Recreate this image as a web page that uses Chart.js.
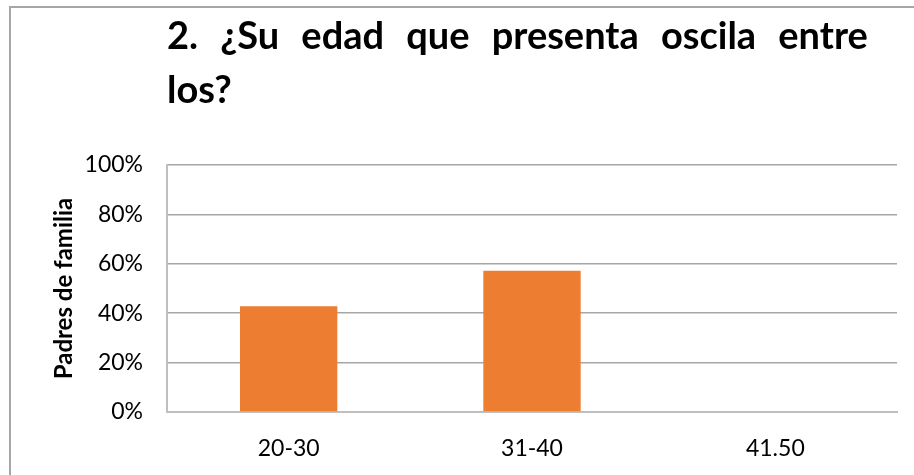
<!DOCTYPE html>
<html>
<head>
<meta charset="utf-8">
<script src="https://cdn.jsdelivr.net/npm/chart.js@4/dist/chart.umd.min.js"></script>
<style>
html,body{margin:0;padding:0;background:#fff;}
#wrap{position:relative;width:914px;height:475px;}
</style>
</head>
<body>
<div id="wrap"><canvas id="c" width="914" height="475"></canvas></div>
<script>
const categories = ["20-30", "31-40", "41.50"];
const values = [42.86, 57.14, 0];
const yTicks = [0, 20, 40, 60, 80, 100];
const titleLines = ["2.\u2004\u2005¿Su\u2004\u2005edad\u2004\u2005que\u2004\u2005presenta\u2004\u2005oscila\u2004\u2005entre", "los?"];
const yAxisTitle = "Padres de familia";

const frame = {
  id: 'frame',
  beforeDraw(chart) {
    const ctx = chart.ctx;
    ctx.save();
    ctx.strokeStyle = '#a6a6a6';
    ctx.lineWidth = 2;
    ctx.strokeRect(10, 7, 940, 500);
    ctx.restore();
  }
};

new Chart(document.getElementById('c'), {
  type: 'bar',
  data: {
    labels: categories,
    datasets: [{
      data: values,
      backgroundColor: '#ED7D31',
      borderWidth: 0,
      barPercentage: 0.4,
      categoryPercentage: 1.0
    }]
  },
  options: {
    responsive: false,
    animation: false,
    events: [],
    layout: { padding: { left: 0, right: 17, top: 0, bottom: 0 } },
    plugins: {
      legend: { display: false },
      tooltip: { enabled: false },
      title: {
        display: true,
        fullSize: false,
        align: 'start',
        text: titleLines,
        color: '#000',
        font: { family: 'Lato', weight: 'bold', size: 38, lineHeight: 54 / 38 },
        padding: { top: 10, bottom: 47 }
      }
    },
    scales: {
      x: {
        grid: { display: false, drawTicks: false },
        border: { display: true, color: '#BFBFBF', width: 2 },
        ticks: { color: '#000', font: { family: 'Lato', size: 23 }, padding: 23 },
        afterFit(s) { s.height = 63; }
      },
      y: {
        min: 0,
        max: 100,
        afterBuildTicks(s) { s.ticks = yTicks.map(v => ({ value: v })); },
        grid: { color: '#A6A6A6', lineWidth: 1.5, drawTicks: false },
        border: { display: true, color: '#BFBFBF', width: 2 },
        ticks: {
          color: '#000',
          font: { family: 'Lato', size: 23 },
          padding: 24,
          callback: v => v + '%'
        },
        title: {
          display: true,
          text: yAxisTitle,
          color: '#000',
          font: { family: 'Lato', weight: 'bold', size: 24 },
          padding: { top: 50, bottom: 0 }
        },
        afterFit(s) { s.width = 167; }
      }
    }
  },
  plugins: [frame]
});
</script>
</body>
</html>
